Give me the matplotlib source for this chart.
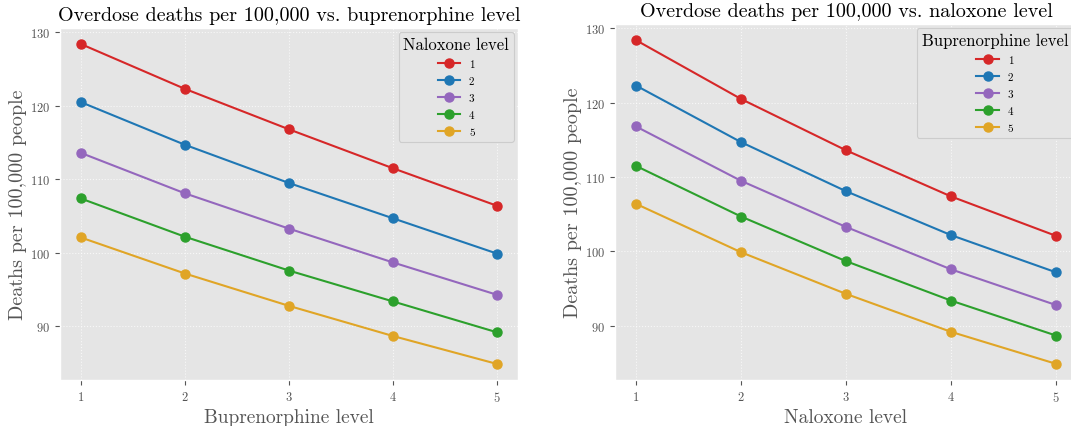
import matplotlib
matplotlib.use("Agg")
import matplotlib.pyplot as plt

# ── data ──────────────────────────────────────────────────────────────────────
# deaths per 100,000: rows = naloxone level, cols = buprenorphine level
LEVELS = [1, 2, 3, 4, 5]
DEATHS = [
    [128.4, 122.3, 116.8, 111.5, 106.4],
    [120.5, 114.7, 109.5, 104.7, 99.9],
    [113.6, 108.1, 103.3, 98.7, 94.3],
    [107.4, 102.2, 97.6, 93.4, 89.2],
    [102.1, 97.2, 92.8, 88.7, 84.9],
]
COLORS = ["#d62728", "#1f77b4", "#9467bd", "#2ca02c", "#e0a526"]

# ── style ─────────────────────────────────────────────────────────────────────
plt.style.use("ggplot")
plt.rcParams.update({
    "font.family": "serif",
    "font.serif": ["cmr10"],
    "mathtext.fontset": "cm",
    "axes.formatter.use_mathtext": True,
    "axes.unicode_minus": False,
})

W, H = 1071, 427
fig = plt.figure(figsize=(W / 100, H / 100), dpi=100)


def px_axes(x0, y0, x1, y1):
    return fig.add_axes([x0 / W, 1 - y1 / H, (x1 - x0) / W, (y1 - y0) / H])


def panel(ax, rows, title, xlabel, legend_title):
    for i, row in enumerate(rows):
        ax.plot(LEVELS, row, "o-", color=COLORS[i], lw=1.5, ms=6.5,
                label=str(LEVELS[i]))
    ax.set_xticks(LEVELS)
    ax.set_yticks([90, 100, 110, 120, 130])
    ax.tick_params(labelsize=9, colors="#555555", length=3.5)
    ax.grid(True, color="white", ls=":", lw=0.8, alpha=0.7)
    ax.set_title(title, fontsize=14.5, color="black")
    ax.set_xlabel(xlabel, fontsize=14, color="#555555", labelpad=3)
    ax.set_ylabel("Deaths per 100,000 people", fontsize=14.5, color="#555555",
                  labelpad=2.5)
    leg = ax.legend(title=legend_title, loc="upper right", fontsize=8,
                    title_fontsize=12, facecolor="#e5e5e5", edgecolor="#cccccc",
                    framealpha=1, borderaxespad=0.4, labelspacing=0.65)
    leg.get_frame().set_linewidth(0.8)


ax1 = px_axes(60, 29, 518, 381)
panel(ax1, DEATHS, "Overdose deaths per 100,000 vs. buprenorphine level",
      "Buprenorphine level", "Naloxone level")

transposed = [list(col) for col in zip(*DEATHS)]
ax2 = px_axes(615, 25, 1077, 381)
panel(ax2, transposed, "Overdose deaths per 100,000 vs. naloxone level",
      "Naloxone level", "Buprenorphine level")

fig.savefig("out.png", dpi=100)
